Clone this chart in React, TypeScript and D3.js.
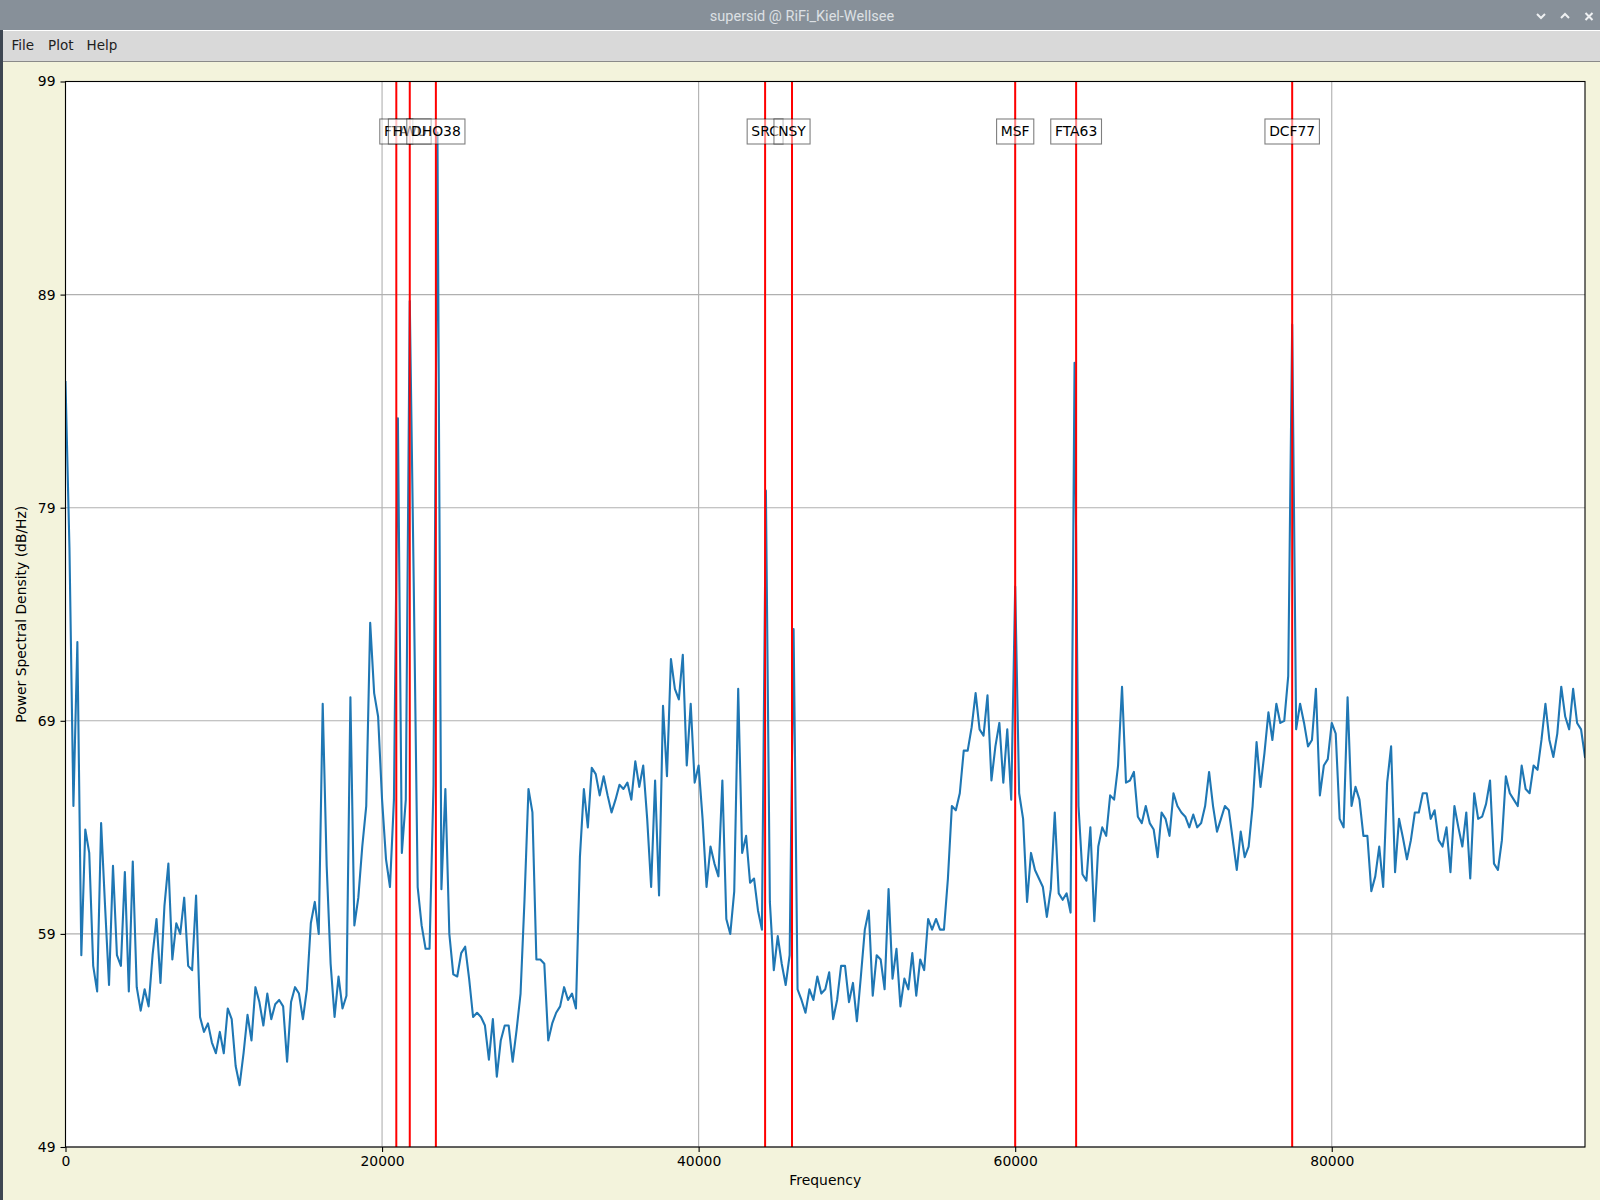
import React, { useEffect, useRef } from 'react';
import * as d3 from 'd3';

// spectrum bins, 250 Hz apart, starting at 0 Hz
const binHz = 250;
const psd: number[] = [
    84.9, 77.1, 65.0, 72.7, 58.0, 63.9, 62.8, 57.5, 56.3, 64.2, 60.3, 56.6, 62.2, 58.0, 57.5, 61.9,
    56.3, 62.4, 56.5, 55.4, 56.4, 55.6, 58.0, 59.7, 56.7, 60.3, 62.3, 57.8, 59.5, 59.0, 60.7, 57.5,
    57.3, 60.8, 55.1, 54.4, 54.8, 53.9, 53.4, 54.4, 53.4, 55.5, 55.0, 52.8, 51.9, 53.4, 55.2, 54.0,
    56.5, 55.8, 54.7, 56.2, 55.0, 55.7, 55.9, 55.6, 53.0, 55.8, 56.5, 56.2, 55.0, 56.4, 59.5, 60.5,
    59.0, 69.8, 62.2, 57.6, 55.1, 57.0, 55.5, 56.1, 70.1, 59.4, 60.7, 63.1, 65.0, 73.6, 70.3, 69.2,
    65.3, 62.5, 61.2, 65.3, 83.2, 62.8, 65.3, 88.7, 75.5, 61.2, 59.4, 58.3, 58.3, 66.0, 96.6, 61.1,
    65.8, 59.0, 57.1, 57.0, 58.1, 58.4, 56.9, 55.1, 55.3, 55.1, 54.7, 53.1, 55.0, 52.3, 54.0, 54.7,
    54.7, 53.0, 54.5, 56.2, 60.6, 65.8, 64.7, 57.8, 57.8, 57.6, 54.0, 54.8, 55.3, 55.6, 56.5, 55.9,
    56.2, 55.5, 62.6, 65.8, 64.0, 66.8, 66.5, 65.5, 66.4, 65.5, 64.7, 65.3, 66.0, 65.8, 66.1, 65.3,
    67.1, 65.9, 66.9, 64.4, 61.2, 66.2, 60.8, 69.7, 66.4, 71.9, 70.5, 70.0, 72.1, 66.9, 69.8, 66.1,
    66.9, 64.4, 61.2, 63.1, 62.3, 61.7, 66.2, 59.7, 59.0, 61.0, 70.5, 62.8, 63.6, 61.4, 61.6, 60.1,
    59.2, 79.8, 60.5, 57.3, 58.9, 57.6, 56.6, 58.0, 73.3, 56.4, 55.9, 55.3, 56.4, 55.9, 57.0, 56.2,
    56.4, 57.2, 55.0, 55.9, 57.5, 57.5, 55.8, 56.7, 54.9, 57.0, 59.2, 60.1, 56.1, 58.0, 57.8, 56.4,
    61.1, 56.9, 58.3, 55.6, 56.9, 56.4, 58.1, 56.1, 57.8, 57.3, 59.7, 59.2, 59.7, 59.2, 59.2, 61.6,
    65.0, 64.8, 65.6, 67.6, 67.6, 68.7, 70.3, 68.6, 68.3, 70.2, 66.2, 67.8, 68.9, 66.1, 68.6, 65.3,
    75.3, 65.6, 64.4, 60.5, 62.8, 62.0, 61.6, 61.2, 59.8, 61.1, 64.7, 60.9, 60.6, 60.9, 60.0, 85.8,
    65.0, 61.8, 61.5, 64.0, 59.6, 63.1, 64.0, 63.6, 65.5, 65.3, 66.9, 70.6, 66.1, 66.2, 66.6, 64.5,
    64.2, 65.0, 64.2, 63.9, 62.6, 64.7, 64.4, 63.6, 65.6, 65.0, 64.7, 64.5, 64.0, 64.6, 64.0, 64.2,
    65.0, 66.6, 65.0, 63.8, 64.4, 65.0, 64.8, 63.4, 62.0, 63.8, 62.6, 63.1, 65.0, 68.0, 65.9, 67.5,
    69.4, 68.1, 69.8, 68.9, 69.0, 71.1, 87.6, 68.6, 69.8, 68.9, 67.8, 68.1, 70.5, 65.5, 66.9, 67.2,
    68.9, 68.4, 64.4, 64.0, 70.1, 65.0, 65.9, 65.3, 63.6, 63.6, 61.0, 61.7, 63.1, 61.2, 66.1, 67.8,
    61.9, 64.4, 63.5, 62.5, 63.4, 64.7, 64.7, 65.6, 65.6, 64.4, 64.8, 63.4, 63.1, 64.0, 61.9, 65.0,
    64.0, 63.1, 64.7, 61.6, 65.6, 64.4, 64.5, 65.1, 66.2, 62.3, 62.0, 63.4, 66.4, 65.6, 65.3, 65.0,
    66.9, 65.8, 65.6, 66.9, 66.7, 68.1, 69.8, 68.1, 67.3, 68.4, 70.6, 69.2, 68.6, 70.5, 68.9, 68.6,
    67.3,
];

const stationNames = ['FTA', 'HWU', 'DHO38', 'SRC', 'NSY', 'MSF', 'FTA63', 'DCF77'];
const stationFreqs = [20900, 21750, 23400, 44200, 45900, 60000, 63850, 77500];

const xTicks = [0, 20000, 40000, 60000, 80000];
const yTicks = [49, 59, 69, 79, 89, 99];
const xDomain: [number, number] = [0, 96000];
const yDomain: [number, number] = [49, 99];

const menuItems = ['File', 'Plot', 'Help'];
const windowTitle = 'supersid @ RiFi_Kiel-Wellsee';

const W = 1600;
const H = 1200;
const box = { left: 65.5, right: 1585, top: 81.5, bottom: 1147 };
const FONT = '"DejaVu Sans", sans-serif';

const App: React.FC = () => {
    const svgRef = useRef<SVGSVGElement>(null);

    useEffect(() => {
        if (!svgRef.current) return;
        const svg = d3.select(svgRef.current);
        svg.selectAll('*').remove();

        // window chrome
        svg.append('rect').attr('width', W).attr('height', H).attr('fill', '#f3f3dc');
        svg.append('rect').attr('width', W).attr('height', 30).attr('fill', '#879099');
        svg.append('rect').attr('y', 30).attr('width', W).attr('height', 1).attr('fill', '#ffffff');
        svg.append('rect').attr('y', 31).attr('width', W).attr('height', 30).attr('fill', '#d9d9d9');
        svg.append('rect').attr('y', 61).attr('width', W).attr('height', 1).attr('fill', '#8a8a8a');
        svg.append('rect').attr('y', 30).attr('width', 3).attr('height', H - 30).attr('fill', '#3e4652');

        svg.append('text')
            .attr('x', 802).attr('y', 21)
            .attr('text-anchor', 'middle')
            .style('font-family', 'Roboto, "Noto Sans", sans-serif')
            .style('font-size', '14.5px')
            .attr('fill', '#dde0e4')
            .text(windowTitle);

        const icons = svg.append('g')
            .attr('fill', 'none').attr('stroke', '#eef0f2').attr('stroke-width', 2);
        icons.append('path').attr('d', 'M1537,14 L1541,18 L1545,14');
        icons.append('path').attr('d', 'M1561,18 L1565,14 L1569,18');
        icons.append('path').attr('d', 'M1585.5,13 L1592.5,20 M1592.5,13 L1585.5,20');

        const menuX = [11.5, 48, 86.5];
        svg.append('g').selectAll('text')
            .data(menuItems)
            .join('text')
            .attr('x', (d, i) => menuX[i]).attr('y', 50)
            .style('font-family', FONT).style('font-size', '13.5px')
            .attr('fill', '#1e1e1e')
            .text(d => d);

        // axes area
        const xScale = d3.scaleLinear().domain(xDomain).range([box.left, box.right]);
        const yScale = d3.scaleLinear().domain(yDomain).range([box.bottom, box.top]);

        svg.append('rect')
            .attr('x', box.left).attr('y', box.top)
            .attr('width', box.right - box.left).attr('height', box.bottom - box.top)
            .attr('fill', '#ffffff');

        const grid = svg.append('g').attr('stroke', '#b0b0b0').attr('stroke-width', 1.1);
        grid.selectAll('line.gx')
            .data(xTicks)
            .join('line')
            .attr('class', 'gx')
            .attr('x1', d => xScale(d)).attr('x2', d => xScale(d))
            .attr('y1', box.top).attr('y2', box.bottom);
        grid.selectAll('line.gy')
            .data(yTicks)
            .join('line')
            .attr('class', 'gy')
            .attr('x1', box.left).attr('x2', box.right)
            .attr('y1', d => yScale(d)).attr('y2', d => yScale(d));

        svg.append('clipPath').attr('id', 'plotclip')
            .append('rect')
            .attr('x', box.left).attr('y', box.top)
            .attr('width', box.right - box.left).attr('height', box.bottom - box.top);

        const line = d3.line<number>()
            .x((d, i) => xScale(i * binHz))
            .y(d => yScale(d));

        svg.append('path')
            .datum(psd)
            .attr('clip-path', 'url(#plotclip)')
            .attr('d', line)
            .attr('fill', 'none')
            .attr('stroke', '#1f77b4')
            .attr('stroke-width', 2.1)
            .attr('stroke-linejoin', 'round')
            .attr('stroke-linecap', 'square');

        svg.append('g').selectAll('line')
            .data(stationFreqs)
            .join('line')
            .attr('x1', d => xScale(d)).attr('x2', d => xScale(d))
            .attr('y1', box.top).attr('y2', box.bottom)
            .attr('stroke', '#ff0000')
            .attr('stroke-width', 2);

        // spines
        svg.append('rect')
            .attr('x', box.left).attr('y', box.top)
            .attr('width', box.right - box.left).attr('height', box.bottom - box.top)
            .attr('fill', 'none').attr('stroke', '#000').attr('stroke-width', 1.1);

        // ticks
        const xAxis = d3.axisBottom(xScale).tickValues(xTicks).tickSize(5).tickPadding(4.5)
            .tickFormat(d => String(d));
        const yAxis = d3.axisLeft(yScale).tickValues(yTicks).tickSize(5).tickPadding(5)
            .tickFormat(d => String(d));

        const gx = svg.append('g').attr('transform', `translate(0,${box.bottom})`).call(xAxis);
        const gy = svg.append('g').attr('transform', `translate(${box.left},0)`).call(yAxis);
        [gx, gy].forEach(g => {
            g.select('.domain').remove();
            g.selectAll('line').attr('stroke', '#000').attr('stroke-width', 1.1);
            g.selectAll('text')
                .attr('fill', '#000')
                .style('font-family', FONT)
                .style('font-size', '13.9px');
        });

        svg.append('text')
            .attr('x', (box.left + box.right) / 2).attr('y', 1185)
            .attr('text-anchor', 'middle')
            .style('font-family', FONT).style('font-size', '13.9px')
            .text('Frequency');

        svg.append('text')
            .attr('transform', `translate(26,${(box.top + box.bottom) / 2}) rotate(-90)`)
            .attr('text-anchor', 'middle')
            .style('font-family', FONT).style('font-size', '13.9px')
            .text('Power Spectral Density (dB/Hz)');

        // station labels, each box drawn over the ones before it
        const labels = svg.append('g');
        const pad = 4.2;
        const boxH = 25;
        const cy = 131.5;
        stationNames.forEach((name, i) => {
            const g = labels.append('g');
            const r = g.append('rect');
            const t = g.append('text')
                .attr('x', xScale(stationFreqs[i])).attr('y', cy + 4.8)
                .attr('text-anchor', 'middle')
                .style('font-family', FONT).style('font-size', '13.9px')
                .attr('fill', '#000')
                .text(name);
            const w = (t.node() as SVGTextElement).getComputedTextLength();
            r.attr('x', xScale(stationFreqs[i]) - w / 2 - pad)
                .attr('y', cy - boxH / 2)
                .attr('width', w + 2 * pad)
                .attr('height', boxH)
                .attr('fill', 'rgba(255,255,255,0.5)')
                .attr('stroke', 'rgba(0,0,0,0.5)')
                .attr('stroke-width', 1.1);
        });
    }, []);

    return (
        <svg
            ref={svgRef}
            width={W}
            height={H}
            style={{ position: 'absolute', left: 0, top: 0, display: 'block' }}
        />
    );
};

export default App;
